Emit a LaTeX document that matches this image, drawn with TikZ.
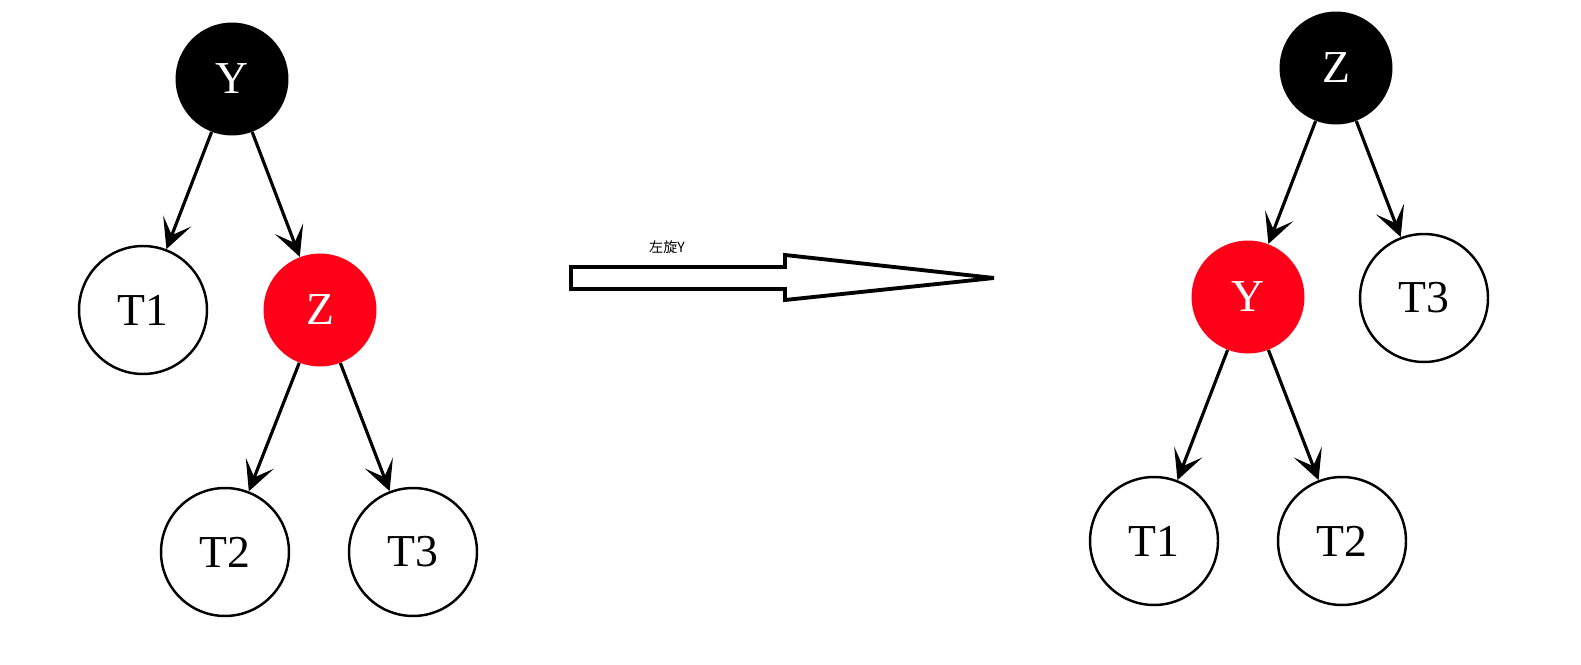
\documentclass[tikz,border=0pt]{standalone}
\usepackage{fontspec}
\setmainfont{Liberation Serif}
\newfontfamily\cjk{Noto Sans CJK SC}
\usepackage{xcolor}
\usetikzlibrary{arrows.meta}
\definecolor{rbred}{RGB}{255,0,25}

\begin{document}
\begin{tikzpicture}[x=0.02cm,y=-0.02cm,
    blacknode/.style={circle,fill=black,text=white,minimum size=2.26cm,inner sep=0pt,font=\fontsize{26}{30}\selectfont},
    rednode/.style={circle,fill=rbred,text=white,minimum size=2.26cm,inner sep=0pt,font=\fontsize{26}{30}\selectfont},
    leafnode/.style={circle,draw=black,line width=1.4pt,fill=white,minimum size=2.56cm,inner sep=0pt,font=\fontsize{26}{30}\selectfont},
    edge/.style={line width=1.8pt,-{Stealth[length=0.6cm,width=0.6cm,inset=0.3cm]}}]
    \useasboundingbox (0,0) rectangle (1581,665);
    % before the rotation
    \node[blacknode] (y1) at (232,79) {Y};
    \node[leafnode] (t11) at (143,310) {T1};
    \node[rednode] (z1) at (320,310) {Z};
    \node[leafnode] (t21) at (225,552) {T2};
    \node[leafnode] (t31) at (413,552) {T3};
    \draw[edge] (y1) -- (t11);
    \draw[edge] (y1) -- (z1);
    \draw[edge] (z1) -- (t21);
    \draw[edge] (z1) -- (t31);
    % the big arrow
    \draw[line width=2.2pt,line join=miter,miter limit=4] (571,267) -- (785,267) -- (785,255) -- (994,278)
      -- (785,300) -- (785,289) -- (571,289) -- cycle;
    \node[font=\cjk\fontsize{8}{10}\selectfont] (lbl) at (667,247) {左旋Y};
    % after the rotation
    \node[blacknode] (z2) at (1336,68) {Z};
    \node[rednode] (y2) at (1248,297) {Y};
    \node[leafnode] (t32) at (1424,298) {T3};
    \node[leafnode] (t12) at (1154,541) {T1};
    \node[leafnode] (t22) at (1342,541) {T2};
    \draw[edge] (z2) -- (y2);
    \draw[edge] (z2) -- (t32);
    \draw[edge] (y2) -- (t12);
    \draw[edge] (y2) -- (t22);
\end{tikzpicture}
\end{document}
